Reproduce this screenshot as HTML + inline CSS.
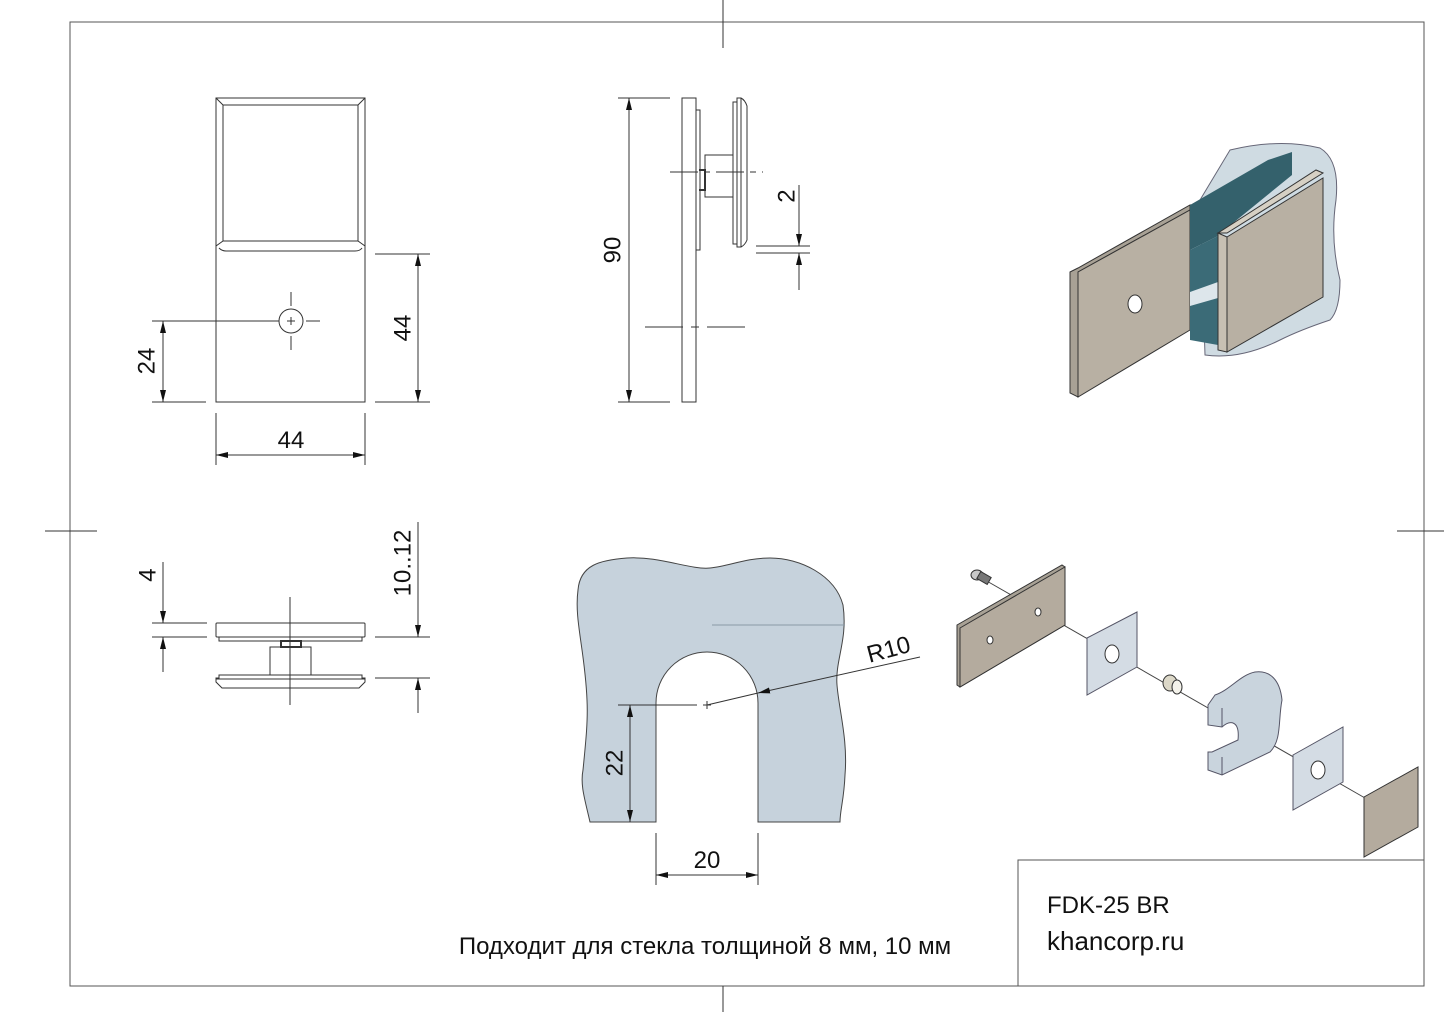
<!DOCTYPE html>
<html><head><meta charset="utf-8"><style>
html,body{margin:0;padding:0;background:#fff}
svg{display:block}
text{font-family:"Liberation Sans",Arial,sans-serif;fill:#111}
</style></head><body>
<svg width="1444" height="1021" viewBox="0 0 1444 1021" xmlns="http://www.w3.org/2000/svg">
<defs>
<marker id="a" viewBox="0 0 12 6" refX="12" refY="3" markerWidth="12" markerHeight="6" orient="auto-start-reverse" markerUnits="userSpaceOnUse"><path d="M0,0 L12,3 L0,6 z" fill="#111"/></marker>
</defs>
<g stroke="#333" stroke-width="1" fill="none">
<rect x="70" y="22" width="1354" height="964" stroke="#555"/>
<line x1="723" y1="0" x2="723" y2="48"/><line x1="723" y1="986" x2="723" y2="1012"/>
<line x1="45" y1="531" x2="97" y2="531"/><line x1="1397" y1="531" x2="1444" y2="531"/>
<polyline points="1018,986 1018,860 1424,860" stroke="#555"/>

<rect x="216" y="98" width="149" height="304"/>
<rect x="223" y="105" width="135" height="136"/>
<line x1="216" y1="98" x2="223" y2="105"/><line x1="365" y1="98" x2="358" y2="105"/>
<path d="M216,246 L223,241 L358,241 L365,246"/>
<path d="M219,248 Q222,251 226,251 L355,251 Q360,251 362,248"/>
<circle cx="291" cy="321" r="12"/>
<line x1="287" y1="321" x2="295" y2="321"/><line x1="291" y1="317" x2="291" y2="325"/>
<line x1="291" y1="292" x2="291" y2="306"/><line x1="291" y1="336" x2="291" y2="350"/>
<line x1="306" y1="321" x2="320" y2="321"/>
<line x1="152" y1="321" x2="279" y2="321"/>
<line x1="152" y1="402" x2="206" y2="402"/>
<line x1="163" y1="321" x2="163" y2="402" marker-start="url(#a)" marker-end="url(#a)"/>
<line x1="375" y1="254" x2="430" y2="254"/><line x1="375" y1="402" x2="430" y2="402"/>
<line x1="418" y1="254" x2="418" y2="402" marker-start="url(#a)" marker-end="url(#a)"/>
<line x1="216" y1="413" x2="216" y2="465"/><line x1="365" y1="413" x2="365" y2="465"/>
<line x1="216" y1="455" x2="365" y2="455" marker-start="url(#a)" marker-end="url(#a)"/>

<rect x="682" y="98" width="14" height="304"/>
<rect x="696" y="110" width="4" height="140"/>
<rect x="705" y="155" width="28" height="42"/>
<path d="M699,170 L705,170 L705,190 L699,190" stroke-width="2"/>
<path d="M733,102 L737,102 L737,98 L741,98 Q745,100 747,106 L747,240 Q745,245 741,247 L737,247 L737,244 L733,244 Z"/>
<line x1="737" y1="102" x2="737" y2="244"/><line x1="741" y1="98" x2="741" y2="247"/>
<line x1="670" y1="172" x2="763" y2="172" stroke-dasharray="28,6,6,6"/>
<line x1="645" y1="327" x2="750" y2="327" stroke-dasharray="38,8,8,8"/>
<line x1="618" y1="98" x2="670" y2="98"/><line x1="618" y1="402" x2="670" y2="402"/>
<line x1="629" y1="98" x2="629" y2="402" marker-start="url(#a)" marker-end="url(#a)"/>
<line x1="756" y1="246" x2="810" y2="246"/><line x1="756" y1="253" x2="810" y2="253"/>
<line x1="799" y1="185" x2="799" y2="246" marker-end="url(#a)"/>
<line x1="799" y1="290" x2="799" y2="253" marker-end="url(#a)"/>

<rect x="216" y="623" width="149" height="14" rx="1"/>
<rect x="219" y="637" width="143" height="4"/>
<rect x="281" y="641" width="20" height="6" stroke-width="2"/>
<rect x="270" y="647" width="41" height="28"/>
<path d="M219,675 L362,675 L362,678 L365,678 L365,682 L359,688 L222,688 L216,682 L216,678 L219,678 Z"/>
<line x1="216" y1="679" x2="365" y2="679"/>
<line x1="290" y1="597" x2="290" y2="705"/>
<line x1="152" y1="623" x2="207" y2="623"/><line x1="152" y1="637" x2="207" y2="637"/>
<line x1="163" y1="562" x2="163" y2="623" marker-end="url(#a)"/>
<line x1="163" y1="672" x2="163" y2="637" marker-end="url(#a)"/>
<line x1="375" y1="637" x2="430" y2="637"/><line x1="375" y1="678" x2="430" y2="678"/>
<line x1="418" y1="522" x2="418" y2="637" marker-end="url(#a)"/>
<line x1="418" y1="713" x2="418" y2="678" marker-end="url(#a)"/>

<path d="M590,822 C585,800 580,785 583,770 C586,740 588,720 587,700 C585,650 574,620 578,590 C580,565 600,560 627,558 C660,556 690,570 710,568 C730,566 745,558 770,558 C800,558 835,575 843,605 C848,640 835,660 837,685 C839,710 848,740 845,775 C844,800 840,810 840,822 L758,822 L758,703 A51,51 0 0 0 656,703 L656,822 Z" fill="#c6d2dc" stroke="#444"/>
<line x1="712" y1="625" x2="845" y2="625" stroke="#8a9aa6"/>
<line x1="703" y1="705" x2="711" y2="705"/><line x1="707" y1="701" x2="707" y2="709"/>
<line x1="920" y1="657" x2="758" y2="693" marker-end="url(#a)"/>
<line x1="758" y1="693" x2="707" y2="705"/>
<line x1="618" y1="705" x2="697" y2="705"/>
<line x1="630" y1="705" x2="630" y2="822" marker-start="url(#a)" marker-end="url(#a)"/>
<line x1="656" y1="833" x2="656" y2="885"/><line x1="758" y1="833" x2="758" y2="885"/>
<line x1="656" y1="875" x2="758" y2="875" marker-start="url(#a)" marker-end="url(#a)"/>
</g>

<g stroke="#333" stroke-width="1">
<path d="M1230,150 Q1280,138 1320,148 Q1340,160 1336,200 Q1330,240 1340,280 Q1340,310 1330,320 Q1300,330 1280,340 Q1240,360 1205,355 L1200,200 Z" fill="#cfdbe2" stroke="#667"/>
<polygon points="1070,272 1078,268 1190,205 1190,210 1078,272 1078,397 1070,393" fill="#a8a195"/>
<polygon points="1078,272 1190,210 1190,330 1078,397" fill="#b8b0a3"/>
<ellipse cx="1135" cy="304" rx="7" ry="9" fill="#fff" stroke="#333"/>
<polygon points="1190,205 1268,160 1292,152 1292,175 1222,232 1218,236 1190,250" fill="#34616c" stroke="none"/>
<polygon points="1190,250 1218,236 1218,345 1190,340" fill="#3b6b77" stroke="none"/>
<polygon points="1190,292 1218,282 1218,298 1190,306" fill="#dde6eb" stroke="none"/>
<polygon points="1218,233 1227,233 1323,173 1316,170" fill="#d6d0c4"/>
<polygon points="1218,233 1227,237 1227,352 1218,350" fill="#c7c0b3"/>
<polygon points="1227,237 1323,178 1323,297 1227,352" fill="#b8b0a3"/>
</g>

<g stroke="#333" stroke-width="1">
<line x1="985" y1="580" x2="1365" y2="798" stroke="#444"/>
<polygon points="957,625 1062,565 1065,567 1065,625 960,687 957,685" fill="#a8a195"/>
<polygon points="960,628 1065,567 1065,625 960,687" fill="#b4ab9e"/>
<ellipse cx="990" cy="640" rx="3" ry="4" fill="#fff"/>
<ellipse cx="1038" cy="612" rx="3" ry="4" fill="#fff"/>
<ellipse cx="977" cy="575" rx="6" ry="5" fill="#c8c8c8"/>
<rect x="978" y="574" width="12" height="8" fill="#777" transform="rotate(30 984 578)"/>
<polygon points="1087,638 1137,612 1137,667 1087,695" fill="#d4dce4" stroke="#556"/>
<ellipse cx="1112" cy="654" rx="7" ry="9" fill="#fff"/>
<ellipse cx="1170" cy="683" rx="7" ry="8" fill="#dcd8c8"/>
<ellipse cx="1177" cy="687" rx="5" ry="7" fill="#f4f2ea"/>
<path d="M1208,705 L1208,725 L1222,727 C1230,720 1240,720 1238,740 L1212,752 L1208,752 L1208,770 L1222,775 L1270,752 C1282,740 1278,720 1282,700 C1280,680 1270,670 1255,672 C1240,675 1230,690 1215,695 Z" fill="#c9d4dd" stroke="#556"/>
<path d="M1222,727 L1222,708 M1222,757 L1222,775" stroke="#556" fill="none"/>
<polygon points="1293,755 1343,727 1343,782 1293,810" fill="#d4dce4" stroke="#556"/>
<ellipse cx="1318" cy="770" rx="7" ry="9" fill="#fff"/>
<polygon points="1364,797 1418,767 1418,827 1364,857" fill="#b4ab9e"/>
</g>

<g font-size="24">
<text x="148" y="361" transform="rotate(-90 148 361)" text-anchor="middle" dominant-baseline="middle">24</text>
<text x="404" y="328" transform="rotate(-90 404 328)" text-anchor="middle" dominant-baseline="middle">44</text>
<text x="291" y="448" text-anchor="middle">44</text>
<text x="614" y="250" transform="rotate(-90 614 250)" text-anchor="middle" dominant-baseline="middle">90</text>
<text x="788" y="196" transform="rotate(-90 788 196)" text-anchor="middle" dominant-baseline="middle">2</text>
<text x="149" y="575" transform="rotate(-90 149 575)" text-anchor="middle" dominant-baseline="middle">4</text>
<text x="404" y="563" transform="rotate(-90 404 563)" text-anchor="middle" dominant-baseline="middle">10..12</text>
<text x="889" y="651" transform="rotate(-15 889 651)" text-anchor="middle" dominant-baseline="middle">R10</text>
<text x="616" y="763" transform="rotate(-90 616 763)" text-anchor="middle" dominant-baseline="middle">22</text>
<text x="707" y="868" text-anchor="middle">20</text>
<text x="705" y="954" text-anchor="middle">Подходит для стекла толщиной 8 мм, 10 мм</text>
<text x="1047" y="913">FDK-25 BR</text>
<text x="1047" y="950" font-size="26">khancorp.ru</text>
</g>
</svg>
</body></html>
